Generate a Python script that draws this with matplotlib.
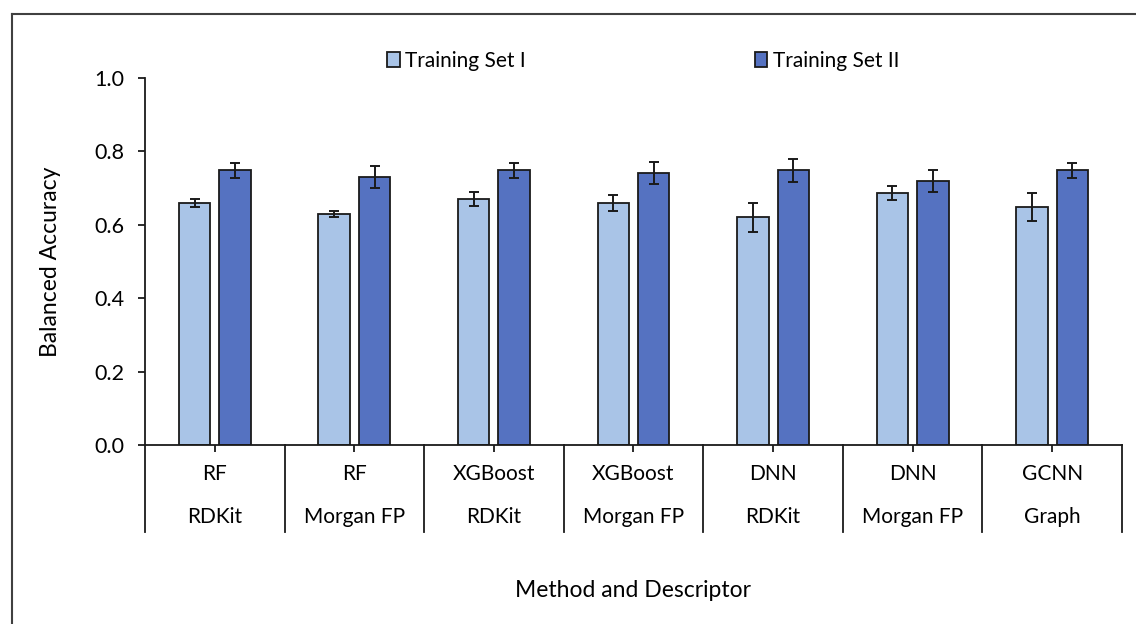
import numpy as np
import matplotlib
matplotlib.use('Agg')
import matplotlib.pyplot as plt
from matplotlib.lines import Line2D
from matplotlib.transforms import blended_transform_factory

plt.rcParams['font.family'] = ['Lato', 'DejaVu Sans']

# Datos
methods = ['RF', 'RF', 'XGBoost', 'XGBoost', 'DNN', 'DNN', 'GCNN']
descriptors = ['RDKit', 'Morgan FP', 'RDKit', 'Morgan FP', 'RDKit', 'Morgan FP', 'Graph']
set1_vals = [0.66, 0.63, 0.67, 0.66, 0.62, 0.687, 0.648]
set1_err = [0.011, 0.008, 0.018, 0.022, 0.039, 0.02, 0.039]
set2_vals = [0.748, 0.731, 0.748, 0.742, 0.748, 0.72, 0.748]
set2_err = [0.02, 0.03, 0.02, 0.03, 0.031, 0.03, 0.02]
y_ticks = [0.0, 0.2, 0.4, 0.6, 0.8, 1.0]

COLORS = {'set1': '#A9C4E7', 'set2': '#5572C1'}
FS = 15

fig = plt.figure(figsize=(11.36, 6.24), dpi=100)
ax = fig.add_axes([0.1276, 0.2869, 0.8601, 0.5881])

x = np.arange(len(methods))
w = 0.225
off = 0.145
ax.bar(x - off, set1_vals, w, color=COLORS['set1'], edgecolor='#1a1a1a', linewidth=1.3,
       label='Training Set I', zorder=2)
ax.bar(x + off, set2_vals, w, color=COLORS['set2'], edgecolor='#1a1a1a', linewidth=1.3,
       label='Training Set II', zorder=2)
ax.errorbar(x - off, set1_vals, yerr=set1_err, fmt='none', ecolor='#1a1a1a',
            elinewidth=1.4, capsize=3.5, capthick=1.4, zorder=3)
ax.errorbar(x + off, set2_vals, yerr=set2_err, fmt='none', ecolor='#1a1a1a',
            elinewidth=1.4, capsize=3.5, capthick=1.4, zorder=3)

ax.set_xlim(-0.5, len(methods) - 0.5)
ax.set_ylim(0, 1.0)
ax.set_yticks(y_ticks)
ax.set_yticklabels(['%.1f' % t for t in y_ticks], fontsize=FS + 0.5)
ax.set_xticks(x)
ax.set_xticklabels([])
ax.tick_params(axis='x', length=5, width=1.3, color='#1a1a1a', direction='out')
ax.tick_params(axis='y', length=5, width=1.3, color='#1a1a1a', direction='out', pad=10)
for s in ['top', 'right']:
    ax.spines[s].set_visible(False)
for s in ['left', 'bottom']:
    ax.spines[s].set_linewidth(1.3)
    ax.spines[s].set_color('#1a1a1a')

# Etiquetas de dos niveles
trans = blended_transform_factory(ax.transData, ax.transAxes)
for i in range(len(methods)):
    ax.text(x[i], -0.08, methods[i], transform=trans, ha='center', va='center', fontsize=FS)
    ax.text(x[i], -0.197, descriptors[i], transform=trans, ha='center', va='center', fontsize=FS)
for b in np.arange(-0.5, len(methods), 1.0):
    ax.add_line(Line2D([b, b], [0, -0.237], transform=trans, color='#1a1a1a',
                       linewidth=1.3, clip_on=False))

ax.set_ylabel('Balanced Accuracy', fontsize=FS + 1.5, labelpad=24)
fig.text(0.557, 0.053, 'Method and Descriptor', ha='center', va='center', fontsize=FS + 1.5)

ax.legend(loc='upper center', bbox_to_anchor=(0.51, 1.125), ncol=2, frameon=False,
          fontsize=FS, handlelength=0.6, handleheight=0.75, handletextpad=0.25,
          columnspacing=11.0)

# Borde de la figura
fig.add_artist(Line2D([12 / 1136, 12 / 1136], [0, 1 - 14 / 624], color='#404040', linewidth=1.5))
fig.add_artist(Line2D([12 / 1136, 1], [1 - 14 / 624, 1 - 14 / 624], color='#404040', linewidth=1.5))

fig.savefig('out.png', dpi=100)
